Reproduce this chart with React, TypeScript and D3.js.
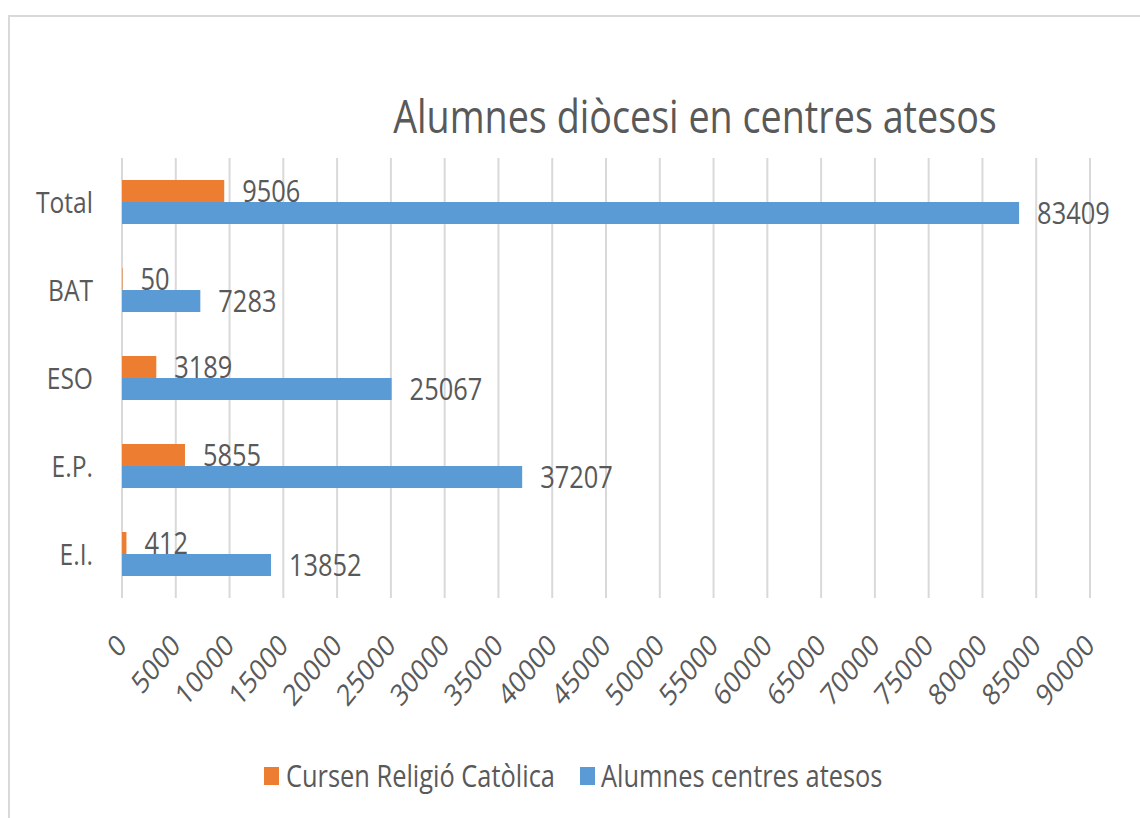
import React, { useEffect } from "react";
import * as d3 from "d3";

// categories from top to bottom
const categories = ["Total", "BAT", "ESO", "E.P.", "E.I."];
const series = ["Cursen Religió Catòlica", "Alumnes centres atesos"];
const religio = [9506, 50, 3189, 5855, 412];
const alumnes = [83409, 7283, 25067, 37207, 13852];
const ticks = [0, 5000, 10000, 15000, 20000, 25000, 30000, 35000, 40000, 45000, 50000, 55000, 60000, 65000, 70000, 75000, 80000, 85000, 90000];
const colors = ["#ED7D31", "#5B9BD5"];

const W = 1140;
const H = 818;
const SX = 0.82; // the original picture is squeezed sideways
const font = "'Open Sans', 'Noto Sans', sans-serif";
const textColor = "#595959";

const App = () => {
  useEffect(() => {
    document.body.style.margin = "0";
  }, []);

  const x = d3.scaleLinear().domain([0, 90000]).range([122, 1090]);
  const y = d3
    .scaleBand()
    .domain(categories)
    .range([158, 598])
    .paddingInner(0.5)
    .paddingOuter(0.25);
  const sub = d3.scaleBand().domain(series).range([0, y.bandwidth()]);

  const rows = categories.map((c, i) => ({ c, vals: [religio[i], alumnes[i]] }));

  return (
    <svg width={W} height={H} style={{ display: "block", background: "#fff" }}>
      <rect x={9} y={16} width={W} height={H} fill="none" stroke="#d9d9d9" strokeWidth={2} />

      <text
        transform={`translate(695,133) scale(${SX},1)`}
        textAnchor="middle"
        fontFamily={font}
        fontSize={46}
        fill={textColor}
      >
        Alumnes diòcesi en centres atesos
      </text>

      {/* gridlines */}
      <g>
        {ticks.map((t) => (
          <line key={t} x1={x(t)} x2={x(t)} y1={158} y2={598} stroke="#d9d9d9" strokeWidth={2} />
        ))}
      </g>

      {/* bars */}
      {rows.map((r) => (
        <g key={r.c} transform={`translate(0,${y(r.c)})`}>
          {r.vals.map((v, j) => (
            <rect
              key={j}
              x={x(0)}
              y={sub(series[j])}
              width={x(v) - x(0)}
              height={sub.bandwidth()}
              fill={colors[j]}
            />
          ))}
        </g>
      ))}

      {/* value labels */}
      {rows.map((r) =>
        r.vals.map((v, j) => (
          <text
            key={r.c + j}
            transform={`translate(${x(v) + 18},${(y(r.c) ?? 0) + (sub(series[j]) ?? 0) + sub.bandwidth() / 2 + 11}) scale(${SX},1)`}
            fontFamily={font}
            fontSize={31}
            fill={textColor}
          >
            {v}
          </text>
        ))
      )}

      {/* category labels */}
      {categories.map((c) => (
        <text
          key={c}
          transform={`translate(93,${(y(c) ?? 0) + y.bandwidth() / 2 + 11}) scale(${SX},1)`}
          textAnchor="end"
          fontFamily={font}
          fontSize={30}
          fill={textColor}
        >
          {c}
        </text>
      ))}

      {/* x tick labels */}
      {ticks.map((t) => (
        <text
          key={t}
          transform={`translate(${x(t) + 6},647) scale(${SX},1) rotate(-45)`}
          textAnchor="end"
          fontFamily={font}
          fontSize={30}
          fill={textColor}
        >
          {t}
        </text>
      ))}

      {/* legend */}
      <g>
        <rect x={264} y={767} width={15} height={18} fill={colors[0]} />
        <text transform={`translate(286,787) scale(${SX},1)`} fontFamily={font} fontSize={31} fill={textColor}>
          {series[0]}
        </text>
        <rect x={580} y={767} width={15} height={18} fill={colors[1]} />
        <text transform={`translate(601,787) scale(${SX},1)`} fontFamily={font} fontSize={31} fill={textColor}>
          {series[1]}
        </text>
      </g>
    </svg>
  );
};

export default App;
